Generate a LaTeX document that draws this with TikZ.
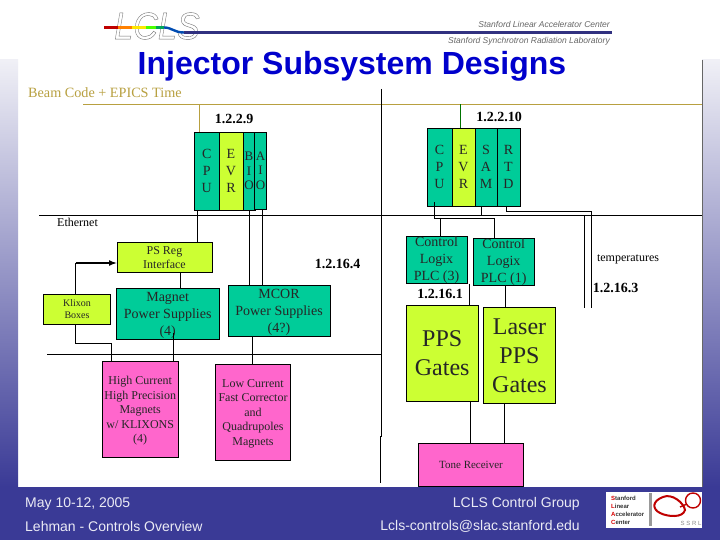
\documentclass[tikz,border=0pt]{standalone}
\usepackage{fontspec}
\setmainfont{Liberation Serif}
\newfontfamily\arialfont{Liberation Sans}
\usetikzlibrary{shapes,fit}
\definecolor{slidebar}{RGB}{58,58,150}
\definecolor{slidefade}{RGB}{240,240,246}
\definecolor{cardgreen}{RGB}{0,204,153}
\definecolor{cardlime}{RGB}{204,255,51}
\definecolor{cardpink}{RGB}{255,102,204}
\definecolor{timeline}{RGB}{184,160,64}
\definecolor{titleblue}{RGB}{0,0,204}
\newcommand{\fs}[2]{\fontsize{#1}{#2}\selectfont}
\tikzset{
  card/.style={draw=black, line width=0.8pt, inner sep=0pt, align=center, text=black!85, text depth=-1pt},
  greencard/.style={card, fill=cardgreen},
  limecard/.style={card, fill=cardlime},
  pinkcard/.style={card, fill=cardpink},
  wbs/.style={font=\fs{14}{16}\bfseries, inner sep=0pt},
  wire/.style={line width=0.8pt, black},
  footer/.style={font=\arialfont\fs{14}{16}, text=white!90!slidebar, inner sep=0pt}
}
\begin{document}
\begin{tikzpicture}[x=1pt, y=-1pt]
    \useasboundingbox (0,0) rectangle (720,540);

    % Slide background
    \fill[white] (0,0) rectangle (720,540);
    \shade[top color=slidefade, bottom color=slidebar] (0,60) rectangle (18,487);
    \shade[top color=slidefade, bottom color=slidebar] (702,60) rectangle (720,487);
    \fill[slidebar] (0,487) rectangle (720,540);
    \draw[black!60, line width=0.6pt] (702,60) -- (702,487);

    % Header logo
    \node[font=\arialfont\itshape\fs{38}{38}, text=black!55, inner sep=0pt, xscale=0.9] (lclslogo) at (157,26) {\special{pdf:code 1 Tr 0.4 w}LCLS\special{pdf:code 0 Tr}};
    \foreach \xa/\xb/\col in {104/118/red!75!black, 118/132/orange, 132/146/yellow!90!orange, 146/156/green!70!yellow, 156/164/teal!70!green}
        \draw[line width=2.4pt, \col] (\xa,27.5) -- (\xb,27.5);
    \draw[line width=2.4pt, teal!60!blue] (164,27.5) .. controls (172,27.5) and (174,32.5) .. (184,32.5);
    \draw[line width=2.4pt, slidebar!85!black] (184,32.5) -- (612,32.5);
    \node[font=\arialfont\itshape\fs{8.5}{10}, text=black!60, anchor=east, inner sep=0pt] (slac) at (610,24.5) {Stanford Linear Accelerator Center};
    \node[font=\arialfont\itshape\fs{8.5}{10}, text=black!60, anchor=east, inner sep=0pt] (ssrl) at (610,41.5) {Stanford Synchrotron Radiation Laboratory};

    % Title
    \node[font=\arialfont\bfseries\fs{32}{36}, text=titleblue, inner sep=0pt] (title) at (352,66.5) {Injector Subsystem Designs};

    % Timing and network lines
    \node[font=\fs{14.2}{16}, text=timeline, anchor=west, inner sep=0pt] (beamcode) at (28,93) {Beam Code + EPICS Time};
    \coordinate (timeleft) at (83,104.5);
    \coordinate (timeright) at (702,104.5);
    \draw[timeline, line width=0.8pt] (timeleft) -- (timeright);
    \draw[wire] (381.5,89) -- (381.5,436) -- (380.5,436) -- (380.5,483);
    \coordinate (etherleft) at (39,215.5);
    \coordinate (etherright) at (702,215.5);
    \draw[wire] (etherleft) -- (etherright);
    \node[font=\fs{12}{14}, anchor=west, inner sep=0pt] (ethernet) at (57,222.5) {Ethernet};
    \coordinate (busleft) at (47,354.5);
    \coordinate (busright) at (381,354.5);
    \draw[wire] (busleft) -- (busright);

    % Chassis 1.2.2.9
    \node[wbs] (lblnine) at (234,119) {1.2.2.9};
    \node[greencard, minimum width=24.5pt, minimum height=78pt, font=\fs{14}{17}] (cpua) at (206.7,171) {C\\P\\U};
    \node[limecard, minimum width=24pt, minimum height=78pt, font=\fs{14}{17}] (evra) at (231,171) {E\\V\\R};
    \node[greencard, minimum width=12pt, minimum height=78pt, font=\fs{13}{14.5}] (bioa) at (249,171) {B\\I\\O};
    \node[greencard, minimum width=12pt, minimum height=77pt, font=\fs{13}{14.5}] (aioa) at (260.5,170.5) {A\\I\\O};

    % Chassis 1.2.2.10
    \node[wbs] (lblten) at (499,117) {1.2.2.10};
    \node[greencard, minimum width=25pt, minimum height=78pt, font=\fs{14}{17}] (cpub) at (439.5,167) {C\\P\\U};
    \node[limecard, minimum width=23pt, minimum height=78pt, font=\fs{14}{17}] (evrb) at (463.5,167) {E\\V\\R};
    \node[greencard, minimum width=22pt, minimum height=78pt, font=\fs{14}{17}] (samb) at (486,167) {S\\A\\M};
    \node[greencard, minimum width=23pt, minimum height=78pt, font=\fs{14}{17}] (rtdb) at (508.5,167) {R\\T\\D};

    % Power supply side
    \node[limecard, minimum width=95pt, minimum height=30.5pt, font=\fs{12}{14.5}] (psreg) at (164.5,257.5) {PS Reg\\Interface};
    \node[limecard, minimum width=67pt, minimum height=30pt, font=\fs{10}{12.5}] (klixon) at (77,309) {Klixon\\Boxes};
    \node[greencard, minimum width=103.5pt, minimum height=51pt, font=\fs{14}{17}] (magnet) at (167.7,313.5) {Magnet\\Power Supplies\\(4)};
    \node[greencard, minimum width=102pt, minimum height=51pt, font=\fs{14}{17}] (mcor) at (279,310.5) {MCOR\\Power Supplies\\(4?)};
    \node[pinkcard, minimum width=76.5pt, minimum height=96pt, font=\fs{12}{14.5}] (highcur) at (140.2,409.5) {High Current\\High Precision\\Magnets\\w/ KLIXONS\\(4)};
    \node[pinkcard, minimum width=75pt, minimum height=96pt, font=\fs{12}{14.5}] (lowcur) at (253,412.5) {Low Current\\Fast Corrector\\and\\Quadrupoles\\Magnets};
    \node[wbs] (lblfour) at (337.5,264) {1.2.16.4};

    % PLC side
    \node[greencard, minimum width=61pt, minimum height=47.5pt, font=\fs{14}{17}, text depth=3pt] (plcthree) at (436.5,259.8) {Control\\Logix\\PLC (3)};
    \node[greencard, minimum width=60.5pt, minimum height=47.5pt, font=\fs{14}{17}, text depth=3pt] (plcone) at (503.7,261.8) {Control\\Logix\\PLC (1)};
    \node[wbs] (lblone) at (440,294) {1.2.16.1};
    \node[limecard, minimum width=72.5pt, minimum height=96pt, font=\fs{24}{29}] (ppsgates) at (442.2,353.5) {PPS\\Gates};
    \node[limecard, minimum width=72pt, minimum height=96.5pt, font=\fs{24}{29}] (lasergates) at (519.5,355.2) {Laser\\PPS\\Gates};
    \node[pinkcard, minimum width=105pt, minimum height=43.5pt, font=\fs{11}{14}] (tone) at (471,464.7) {Tone Receiver};
    \node[font=\fs{12}{14}, inner sep=0pt] (temps) at (628,259) {temperatures};
    \node[wbs] (lblthree) at (615.5,288) {1.2.16.3};
    \coordinate (tempa) at (584.5,308);
    \coordinate (tempb) at (591.5,308);

    % Timing drops
    \draw[timeline, line width=0.8pt] (199,104.5) -- (199,0 |- cpua.north);
    \draw[green!45!black, line width=0.8pt] (460,104.5) -- (460,0 |- evrb.north);

    % Connections, first chassis
    \draw[wire] (197.5,0 |- cpua.south) -- (197.5,0 |- psreg.north);
    \draw[wire] (249.5,0 |- bioa.south) -- (249.5,0 |- mcor.north);
    \draw[wire] (262,0 |- aioa.south) -- (262,0 |- mcor.north);
    \draw[wire] (180.5,0 |- psreg.south) -- (180.5,0 |- magnet.north);
    \coordinate (klixonturn) at (75.5,263);
    \draw[wire] (75.5,0 |- klixon.north) -- (klixonturn);
    \draw[-latex, line width=1.6pt] (klixonturn) -- (psreg.west |- klixonturn);
    \draw[wire] (75.5,0 |- klixon.south) -- (75.5,343) -- (111.5,343) -- (111.5,0 |- highcur.north);
    \draw[wire] (173.5,333) -- (173.5,0 |- highcur.north);
    \draw[wire] (252.5,0 |- mcor.south) -- (252.5,0 |- lowcur.north);

    % Connections, second chassis
    \draw[wire] (434,202) -- (434,218) -- (494,218) -- (494,0 |- plcone.north);
    \draw[wire] (440,218) -- (440,0 |- plcthree.north);
    \draw[wire] (481.5,0 |- samb.south) -- (481.5,215.5);
    \draw[wire] (506,0 |- rtdb.south) -- (506,211) -- (591.5,211) -- (tempb);
    \draw[wire] (584.5,215.5) -- (tempa);
    \draw[wire] (469.5,0 |- plcthree.south) -- (469.5,0 |- ppsgates.north);
    \draw[wire] (505.5,0 |- plcone.south) -- (505.5,0 |- lasergates.north);
    \draw[wire] (470.5,0 |- ppsgates.south) -- (470.5,0 |- tone.north);
    \draw[wire] (504.5,0 |- lasergates.south) -- (504.5,0 |- tone.north);

    % Footer
    \node[footer, anchor=west] (dates) at (25,504) {May 10-12, 2005};
    \node[footer, anchor=west] (speaker) at (25,526.5) {Lehman - Controls Overview};
    \node[footer, anchor=east] (group) at (580,504) {LCLS Control Group};
    \node[footer, anchor=east] (mail) at (580,526.5) {Lcls-controls@slac.stanford.edu};

    % Footer logos
    \fill[white] (606,492) rectangle (702,528);
    \fill[black!40] (649,493) rectangle (652,526);
    \node[font=\arialfont\bfseries\fs{6}{8}, align=left, anchor=west, inner sep=0pt, text=black!80] (slaclogo) at (611,510)
        {\textcolor{red!85!black}{S}tanford\\\textcolor{red!85!black}{L}inear\\\textcolor{red!85!black}{A}ccelerator\\\textcolor{red!85!black}{C}enter};
    \draw[red!75!black, line width=2pt] (663,497) .. controls (672,493) and (684,503) .. (685,510) .. controls (683,518) and (668,517) .. (660,513) .. controls (652,509) and (652,501) .. (663,497);
    \draw[red!75!black, line width=1.4pt] (693,500.5) circle (7.5);
    \draw[red!75!black, line width=1.4pt] (680,507) -- (687,504);
    \node[font=\arialfont\fs{6}{8}, text=black!45, inner sep=0pt] (ssrlogo) at (691,523) {S S R L};
\end{tikzpicture}
\end{document}
